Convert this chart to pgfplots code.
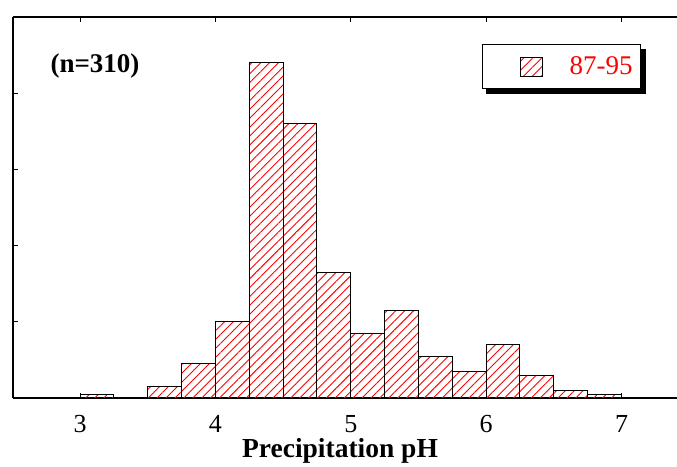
\documentclass[border=0pt]{standalone}
\usepackage{pgfplots}
\pgfplotsset{compat=1.18}
\usepackage{fontspec}
\setmainfont{Liberation Serif}
\usetikzlibrary{patterns.meta,calc,backgrounds}
\begin{document}
\begin{tikzpicture}
\begin{axis}[
  name=ax,
  scale only axis,
  width=664pt, height=381pt,
  xmin=2.505, xmax=7.41,
  ymin=0, ymax=100,
  axis x line*=box,
  axis y line*=left,
  axis line style={line width=1.2pt},
  tick align=inside,
  major tick length=5pt,
  tick style={line width=1pt, black},
  xtick={3,4,5,6,7},
  ytick={0,20,40,60,80,100},
  yticklabels={},
  /pgf/number format/assume math mode=true,
  xticklabel style={font=\fontsize{26}{28}\selectfont, inner sep=0pt, yshift=-17pt},
  xlabel={\textbf{Precipitation pH}},
  xlabel style={font=\fontsize{27.5}{30}\selectfont, inner sep=0pt, at={(rel axis cs:0.4925,0)}, anchor=north, yshift=-40pt},
  legend style={
    name=leg,
    at={(rel axis cs:0.7063,0.9291)}, anchor=north west,
    draw=black, line width=1.2pt, fill=white,
    inner sep=0pt, column sep=0pt,
    nodes={inner sep=0pt},
    font=\fontsize{27}{30}\selectfont, text=red,
  },
  legend image code/.code={
    \path (0pt,-21.5pt) (86pt,21.5pt);
    \draw[black, line width=0.9pt, pattern={Lines[angle=45,distance=6.3pt,line width=0.9pt]}, pattern color=red] (37pt,-9.5pt) rectangle (59pt,9.5pt);
  },
]
\addplot[ybar interval, draw=black, line width=1pt,
  pattern={Lines[angle=45,distance=6.3pt,line width=0.9pt]}, pattern color=red]
  coordinates {
  (3,1) (3.25,0) (3.5,3) (3.75,9) (4,20) (4.25,88) (4.5,72) (4.75,33)
  (5,17) (5.25,23) (5.5,11) (5.75,7) (6,14) (6.25,6) (6.5,2) (6.75,1) (7,0)
  };
\addlegendentry{87-95\hspace*{8pt}}
\node[font=\fontsize{27}{29}\selectfont\bfseries] at (rel axis cs:0.1235,0.871) {(n=310)};
\end{axis}
\begin{pgfonlayer}{background}
\fill[black] ($(leg.south west)+(4.5pt,-4.5pt)$) rectangle ($(leg.north east)+(4.5pt,-4.5pt)$);
\end{pgfonlayer}
\pgfresetboundingbox
\path[use as bounding box] ($(ax.south west)+(-13pt,-68pt)$) rectangle ($(ax.north east)+(0pt,17pt)$);
\end{tikzpicture}
\end{document}
